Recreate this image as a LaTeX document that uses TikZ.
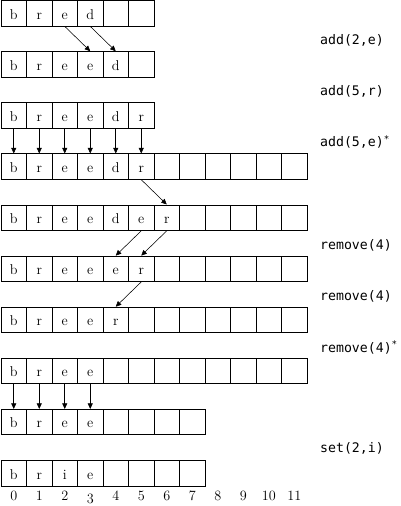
\documentclass[tikz,border=0pt]{standalone}
\usepackage{fontspec}
\newfontfamily\labfont{DejaVu Sans Mono}
\usetikzlibrary{arrows.meta}
\begin{document}
\begin{tikzpicture}[x=1pt,y=-1pt,
  cell/.style={draw, line width=0.8pt, minimum width=25.5pt, minimum height=25.5pt, inner sep=0pt},
  celltext/.style={anchor=base, inner sep=0pt, font=\fontsize{14.2}{16}\selectfont},
  mv/.style={-{Triangle[length=5.5pt,width=5pt]}, line width=0.55pt},
  oplabel/.style={anchor=west, inner sep=0pt, font=\labfont\fontsize{13.2}{16}\selectfont},
  idx/.style={anchor=base, inner sep=0pt, font=\fontsize{14.2}{16}\selectfont}]
\useasboundingbox (0,0) rectangle (401,506);
% rows: index / last cell index / letters
\foreach \r/\n/\txt in {0/5/{b,r,e,d},1/5/{b,r,e,e,d},2/5/{b,r,e,e,d,r},
  3/11/{b,r,e,e,d,r},4/11/{b,r,e,e,d,e,r},5/11/{b,r,e,e,e,r},6/11/{b,r,e,e,r},
  7/11/{b,r,e,e},8/7/{b,r,e,e},9/7/{b,r,i,e}}{
  \foreach \j in {0,...,\n}
    \node[cell] (c\r-\j) at ({1+25.5*(\j+0.5)},{0.5+51.1*\r+12.75}) {};
  \foreach \t [count=\k from 0] in \txt
    \node[celltext] (t\r-\k) at ({1+25.5*(\k+0.5)},{0.5+51.1*\r+18.6}) {\t};
}
% arrows
\draw[mv] (c0-2.south) -- (c1-3.north);
\draw[mv] (c0-3.south) -- (c1-4.north);
\foreach \j in {0,...,5} \draw[mv] (c2-\j.south) -- (c3-\j.north);
\draw[mv] (c3-5.south) -- (c4-6.north);
\draw[mv] (c4-5.south) -- (c5-4.north);
\draw[mv] (c4-6.south) -- (c5-5.north);
\draw[mv] (c5-5.south) -- (c6-4.north);
\foreach \j in {0,...,3} \draw[mv] (c7-\j.south) -- (c8-\j.north);
% operation labels
\node[oplabel] (l0) at (320,40.8) {add(2,e)};
\node[oplabel] (l1) at (320,91.4) {add(5,r)};
\node[oplabel] (l2) at (320,142.3) {add(5,e)\textsuperscript{*}};
\node[oplabel] (l4) at (320,245) {remove(4)};
\node[oplabel] (l5) at (320,296.5) {remove(4)};
\node[oplabel] (l6) at (320,347.5) {remove(4)\textsuperscript{*}};
\node[oplabel] (l8) at (320,448) {set(2,i)};
% indices
\foreach \j in {0,...,11}
  \node[idx] (i\j) at ({1+25.5*(\j+0.5)},500.7) {\ifnum\j=3 \raisebox{-2.5pt}{3}\else\j\fi};
\end{tikzpicture}
\end{document}
